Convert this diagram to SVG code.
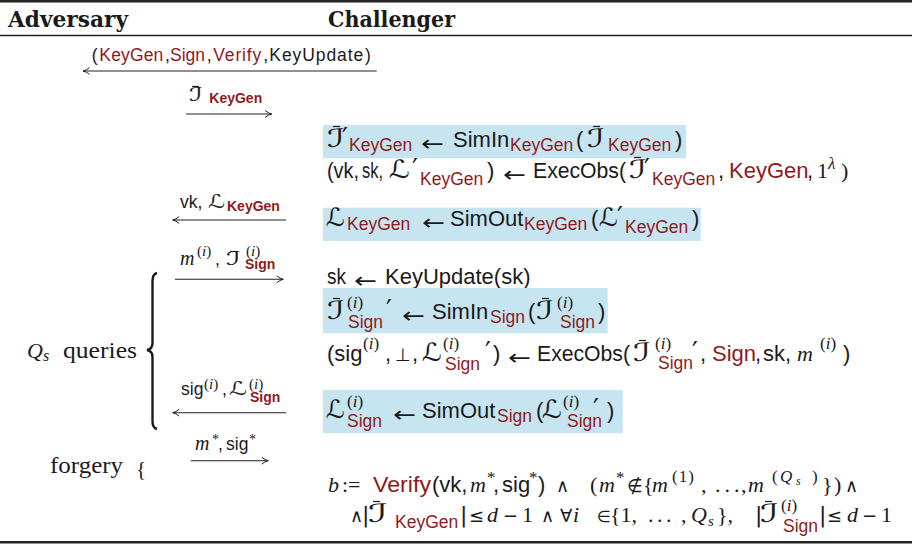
<svg xmlns="http://www.w3.org/2000/svg" width="912" height="545" viewBox="0 0 912 545">
  <style>
    text { fill: #1a1a1a; }
    .sf { font-family: "Liberation Sans", Arial, sans-serif; }
    .m22 { font-size: 22px; }
    .sb { font-size: 17.5px; }
    .rd { fill: #8e1b1b; }
    .it { font-family: "Liberation Serif", "Times New Roman", serif; font-style: italic; }
    .rm { font-family: "Liberation Serif", "Times New Roman", serif; font-style: normal; }
    .sc { font-family: "DejaVu Sans", sans-serif; font-style: italic; font-size: 25px; }
    .scs { font-family: "DejaVu Sans", sans-serif; font-style: italic; font-size: 19px; }
    .sy { font-family: "DejaVu Sans", sans-serif; font-style: normal; }
    .op { font-family: "DejaVu Sans", sans-serif; font-style: normal; font-size: 18px; }
    .ar { font-family: "DejaVu Sans", sans-serif; font-style: normal; font-size: 22px; }
    .pr { font-family: "DejaVu Sans", sans-serif; font-style: normal; font-size: 26px; }
    .bd { font-family: "Liberation Sans", Arial, sans-serif; font-weight: bold; font-size: 14px; }
    .sp { font-size: 17px; }
    .ls { font-size: 15px; }
    .hd { font-family: "DejaVu Serif", "Liberation Serif", serif; font-weight: bold; font-size: 22px; }
    .lbl { font-size: 17.5px; }
    .ml { font-size: 24px; }
    .bar { stroke: #1a1a1a; stroke-width: 1.2; }
    .hl { fill: #c7e4f1; }
    .msg { stroke: #222; stroke-width: 1.1; fill: none; marker-end: url(#head); }
    .rule { stroke: #222; }
  </style>
  <defs>
    <marker id="head" viewBox="0 0 8 8" refX="7.5" refY="4" markerWidth="8" markerHeight="8" markerUnits="userSpaceOnUse" orient="auto">
      <path d="M1,0.6 Q4.2,3.3 7.5,4 Q4.2,4.7 1,7.4" fill="none" stroke="#222" stroke-width="1"/>
    </marker>
  </defs>

  <!-- table rules and column headings -->
  <g id="header">
    <line class="rule" x1="0" y1="1.3" x2="912" y2="1.3" stroke-width="2.6"/>
    <text class="hd" x="8" y="26.7" textLength="120" lengthAdjust="spacingAndGlyphs">Adversary</text>
    <text class="hd" x="328" y="26.7" textLength="127" lengthAdjust="spacingAndGlyphs">Challenger</text>
    <line class="rule" x1="0" y1="35.5" x2="912" y2="35.5" stroke-width="1.3"/>
    <line class="rule" x1="0" y1="542.3" x2="912" y2="542.3" stroke-width="2.4"/>
  </g>

  <!-- adversary side annotations -->
  <g id="adversary">
    <path d="M157,273 Q152.5,274 152.5,281 L152.5,343 Q152.5,349 147,350 Q152.5,351 152.5,357 L152.5,421 Q152.5,428 157,429" fill="none" stroke="#1a1a1a" stroke-width="2.4"/>
    <text class="it" x="27" y="357.7" style="font-size:22px">Q<tspan class="it" y="361" style="font-size:16px">s</tspan></text>
    <text class="rm ml" x="63" y="357.7" textLength="74" lengthAdjust="spacingAndGlyphs">queries</text>
    <text class="rm ml" x="50" y="473.3" textLength="73" lengthAdjust="spacingAndGlyphs">forgery</text>
    <text class="rm" x="136" y="476" style="font-size:21px">{</text>
  </g>

  <!-- message arrows between the two parties -->
  <g id="connectors">
    <line class="msg" x1="376.7" y1="71" x2="83" y2="71"/>
    <line class="msg" x1="186" y1="114" x2="271.7" y2="114"/>
    <line class="msg" x1="286" y1="220" x2="172.7" y2="220"/>
    <line class="msg" x1="175" y1="279.3" x2="283.3" y2="279.3"/>
    <line class="msg" x1="286" y1="412.7" x2="172.7" y2="412.7"/>
    <line class="msg" x1="190.7" y1="460.7" x2="268.3" y2="460.7"/>
  </g>

  <!-- message labels -->
  <g id="messages">
    <text class="sf lbl" y="60.7">
      <tspan x="91.7">(</tspan><tspan class="rd" x="99.3" textLength="64">KeyGen</tspan><tspan x="165">,</tspan><tspan class="rd" x="170" textLength="35">Sign</tspan><tspan x="206.7">,</tspan><tspan class="rd" x="213.3" textLength="48">Verify</tspan><tspan x="263.3">,</tspan><tspan x="269.3" textLength="94">KeyUpdate</tspan><tspan x="365">)</tspan>
    </text>
    <text class="scs" x="189" y="100.5" textLength="14" lengthAdjust="spacingAndGlyphs">ℐ</text>
    <line class="bar" x1="192" y1="86.5" x2="199" y2="86.5"/>
    <text class="bd rd" x="209.3" y="103">KeyGen</text>

    <text class="sf lbl" x="180" y="207.7">vk,</text>
    <text class="scs" x="208" y="207.7" textLength="17" lengthAdjust="spacingAndGlyphs">ℒ</text>
    <text class="bd rd" x="227" y="210.7">KeyGen</text>

    <text class="it" x="180" y="265" style="font-size:20px">m</text>
    <text class="ls" y="256"><tspan class="rm" x="197">(</tspan><tspan class="it">i</tspan><tspan class="rm">)</tspan></text>
    <text class="sf lbl" x="215" y="265">,</text>
    <text class="scs" x="226" y="265" textLength="15" lengthAdjust="spacingAndGlyphs">ℐ</text>
    <line class="bar" x1="230" y1="251.5" x2="237" y2="251.5"/>
    <text class="ls" y="256"><tspan class="rm" x="246">(</tspan><tspan class="it">i</tspan><tspan class="rm">)</tspan></text>
    <text class="bd rd" x="245" y="269.3">Sign</text>

    <text class="sf lbl" x="181" y="395">sig</text>
    <text class="ls" y="389"><tspan class="rm" x="204">(</tspan><tspan class="it">i</tspan><tspan class="rm">)</tspan></text>
    <text class="sf lbl" x="222" y="395">,</text>
    <text class="scs" x="229" y="395" textLength="18" lengthAdjust="spacingAndGlyphs">ℒ</text>
    <text class="ls" y="389"><tspan class="rm" x="249">(</tspan><tspan class="it">i</tspan><tspan class="rm">)</tspan></text>
    <text class="bd rd" x="250" y="401.7">Sign</text>

    <text class="it" x="195" y="450" style="font-size:20px">m</text>
    <text class="rm" x="212" y="444" style="font-size:14px">*</text>
    <text class="sf lbl" x="218" y="450">,</text>
    <text class="sf lbl" x="226" y="450">sig</text>
    <text class="rm" x="249" y="444" style="font-size:14px">*</text>
  </g>

  <!-- key generation phase -->
  <g id="keygen">
    <rect class="hl" x="323" y="125" width="363" height="33.3"/>
    <text class="sf m22">
      <tspan class="sc" x="327" y="147" textLength="18" lengthAdjust="spacingAndGlyphs">ℐ</tspan><tspan class="pr" x="342" y="147">′</tspan><tspan class="rd sb" x="349" y="151">KeyGen</tspan>
      <tspan class="ar" x="421" y="150.5" textLength="23" lengthAdjust="spacingAndGlyphs">←</tspan><tspan x="453" y="147">SimIn</tspan><tspan class="rd sb" x="510" y="151">KeyGen</tspan>
      <tspan x="576" y="147">(</tspan><tspan class="sc" x="587" y="147" textLength="18" lengthAdjust="spacingAndGlyphs">ℐ</tspan><tspan class="rd sb" x="608" y="151">KeyGen</tspan><tspan x="675" y="147">)</tspan>
    </text>
    <line class="bar" x1="333" y1="126.5" x2="340" y2="126.5"/>
    <line class="bar" x1="593" y1="126.5" x2="600" y2="126.5"/>

    <text class="sf m22">
      <tspan x="327" y="178" textLength="32" lengthAdjust="spacingAndGlyphs">(vk,</tspan><tspan x="362" y="178" textLength="21" lengthAdjust="spacingAndGlyphs">sk,</tspan><tspan class="sc" x="389" y="178" textLength="21" lengthAdjust="spacingAndGlyphs">ℒ</tspan><tspan class="pr" x="412" y="178">′</tspan><tspan class="rd sb" x="420" y="185">KeyGen</tspan><tspan x="487" y="178">)</tspan>
      <tspan class="ar" x="503" y="181.5" textLength="23" lengthAdjust="spacingAndGlyphs">←</tspan><tspan x="533" y="178" textLength="93" lengthAdjust="spacingAndGlyphs">ExecObs(</tspan><tspan class="sc" x="629" y="178" textLength="18" lengthAdjust="spacingAndGlyphs">ℐ</tspan><tspan class="pr" x="644" y="178">′</tspan><tspan class="rd sb" x="652" y="185">KeyGen</tspan>
      <tspan x="718" y="178">,</tspan><tspan class="rd" x="729" y="178">KeyGen</tspan><tspan x="807" y="178">,</tspan>
      <tspan class="rm" x="817" y="178">1</tspan><tspan class="it sp" x="828" y="169">λ</tspan><tspan class="rm" x="841" y="178">)</tspan>
    </text>
    <line class="bar" x1="634" y1="157.5" x2="641" y2="157.5"/>

    <rect class="hl" x="323" y="207.7" width="377.7" height="33.3"/>
    <text class="sf m22">
      <tspan class="sc" x="326" y="226" textLength="19" lengthAdjust="spacingAndGlyphs">ℒ</tspan><tspan class="rd sb" x="347" y="230">KeyGen</tspan>
      <tspan class="ar" x="422" y="229.5" textLength="23" lengthAdjust="spacingAndGlyphs">←</tspan><tspan x="450" y="226">SimOut</tspan><tspan class="rd sb" x="524" y="230">KeyGen</tspan>
      <tspan x="591" y="226">(</tspan><tspan class="sc" x="599" y="226" textLength="19" lengthAdjust="spacingAndGlyphs">ℒ</tspan><tspan class="pr" x="617" y="226">′</tspan><tspan class="rd sb" x="625" y="233">KeyGen</tspan><tspan x="692" y="226">)</tspan>
    </text>
  </g>

  <!-- signing queries -->
  <g id="sign">
    <text class="sf m22">
      <tspan x="327" y="284.3" textLength="19" lengthAdjust="spacingAndGlyphs">sk</tspan><tspan class="ar" x="354" y="287.8" textLength="23" lengthAdjust="spacingAndGlyphs">←</tspan><tspan x="385" y="284.3">KeyUpdate(sk)</tspan>
    </text>

    <rect class="hl" x="323" y="288" width="284.7" height="45.3"/>
    <text class="sf m22">
      <tspan class="sc" x="327" y="319" textLength="18" lengthAdjust="spacingAndGlyphs">ℐ</tspan><tspan class="rd sb" x="348" y="327.7">Sign</tspan><tspan class="pr" x="386" y="319">′</tspan>
      <tspan class="ar" x="402" y="322.5" textLength="23" lengthAdjust="spacingAndGlyphs">←</tspan><tspan x="432" y="319">SimIn</tspan><tspan class="rd sb" x="490" y="323.3">Sign</tspan>
      <tspan x="528" y="319">(</tspan><tspan class="sc" x="536" y="319" textLength="18" lengthAdjust="spacingAndGlyphs">ℐ</tspan><tspan class="rd sb" x="560" y="327.7">Sign</tspan><tspan x="598" y="319">)</tspan>
    </text>
    <text class="sp" y="308"><tspan class="rm" x="347">(</tspan><tspan class="it">i</tspan><tspan class="rm">)</tspan><tspan class="rm" x="557">(</tspan><tspan class="it">i</tspan><tspan class="rm">)</tspan></text>
    <line class="bar" x1="333" y1="298.5" x2="340" y2="298.5"/>
    <line class="bar" x1="542" y1="298.5" x2="549" y2="298.5"/>

    <text class="sf m22">
      <tspan x="327" y="361">(sig</tspan><tspan x="385" y="361">,</tspan><tspan class="op" x="395" y="361">⊥</tspan><tspan x="412" y="361">,</tspan>
      <tspan class="sc" x="422" y="361" textLength="20" lengthAdjust="spacingAndGlyphs">ℒ</tspan><tspan class="rd sb" x="445" y="370">Sign</tspan><tspan class="pr" x="485" y="361">′</tspan><tspan x="493" y="361">)</tspan>
      <tspan class="ar" x="508" y="364.5" textLength="23" lengthAdjust="spacingAndGlyphs">←</tspan><tspan x="537" y="361" textLength="93" lengthAdjust="spacingAndGlyphs">ExecObs(</tspan><tspan class="sc" x="633" y="361" textLength="18" lengthAdjust="spacingAndGlyphs">ℐ</tspan><tspan class="rd sb" x="658" y="369.3">Sign</tspan><tspan class="pr" x="692" y="361">′</tspan>
      <tspan x="700" y="361">,</tspan><tspan class="rd" x="712" y="361">Sign</tspan><tspan x="755" y="361">,</tspan><tspan x="763" y="361">sk,</tspan>
      <tspan class="it" x="797" y="361">m</tspan><tspan x="843" y="361">)</tspan>
    </text>
    <text class="sp" y="349"><tspan class="rm" x="363">(</tspan><tspan class="it">i</tspan><tspan class="rm">)</tspan><tspan class="rm" x="443">(</tspan><tspan class="it">i</tspan><tspan class="rm">)</tspan><tspan class="rm" x="655">(</tspan><tspan class="it">i</tspan><tspan class="rm">)</tspan><tspan class="rm" x="820">(</tspan><tspan class="it">i</tspan><tspan class="rm">)</tspan></text>
    <line class="bar" x1="639" y1="340.5" x2="646" y2="340.5"/>

    <rect class="hl" x="323" y="390" width="299.7" height="43.3"/>
    <text class="sf m22">
      <tspan class="sc" x="326" y="418.3" textLength="19" lengthAdjust="spacingAndGlyphs">ℒ</tspan><tspan class="rd sb" x="347" y="426.7">Sign</tspan>
      <tspan class="ar" x="393" y="421.8" textLength="23" lengthAdjust="spacingAndGlyphs">←</tspan><tspan x="422" y="418.3">SimOut</tspan><tspan class="rd sb" x="497" y="421.7">Sign</tspan>
      <tspan x="536" y="418.3">(</tspan><tspan class="sc" x="542" y="418.3" textLength="20" lengthAdjust="spacingAndGlyphs">ℒ</tspan><tspan class="rd sb" x="567" y="426.7">Sign</tspan><tspan class="pr" x="593" y="418.3">′</tspan><tspan x="607" y="418.3">)</tspan>
    </text>
    <text class="sp" y="406.5"><tspan class="rm" x="347">(</tspan><tspan class="it">i</tspan><tspan class="rm">)</tspan><tspan class="rm" x="563">(</tspan><tspan class="it">i</tspan><tspan class="rm">)</tspan></text>
  </g>

  <!-- final verification -->
  <g id="verify">
    <text class="sf m22">
      <tspan class="it" x="328" y="491.5">b</tspan><tspan class="rm" x="342" y="491.5">:=</tspan>
      <tspan class="rd" x="373" y="491.5" textLength="58" lengthAdjust="spacingAndGlyphs">Verify</tspan><tspan x="432" y="491.5">(vk,</tspan>
      <tspan class="it" x="470" y="491.5">m</tspan><tspan class="rm sp" x="487" y="483">*</tspan><tspan x="493" y="491.5">,</tspan><tspan x="502" y="491.5">sig</tspan><tspan class="rm sp" x="529" y="483">*</tspan><tspan x="538" y="491.5">)</tspan>
      <tspan class="op" x="556" y="491.5">∧</tspan>
      <tspan class="rm" x="590" y="491.5">(</tspan><tspan class="it" x="599" y="491.5">m</tspan><tspan class="rm sp" x="616" y="483">*</tspan>
      <tspan class="op" x="627" y="491.5">∉</tspan><tspan class="rm" x="643" y="491.5">{</tspan>
      <tspan class="it" x="652" y="491.5">m</tspan><tspan class="rm sp" x="672" y="482" textLength="22">(1)</tspan>
      <tspan class="rm" x="701" y="491.5">,</tspan><tspan class="rm" x="715" y="491.5">.</tspan><tspan class="rm" x="724.5" y="491.5">.</tspan><tspan class="rm" x="734" y="491.5">.</tspan><tspan class="rm" x="741" y="491.5">,</tspan>
      <tspan class="it" x="748" y="491.5">m</tspan><tspan class="rm sp" x="772" y="482">(</tspan><tspan class="it sp" x="780" y="482">Q</tspan><tspan class="it" x="796" y="485" style="font-size:12px">s</tspan><tspan class="rm sp" x="812" y="482">)</tspan>
      <tspan class="rm" x="822" y="491.5">}</tspan><tspan class="rm" x="834" y="491.5">)</tspan><tspan class="op" x="845" y="491.5">∧</tspan>
    </text>
    <text class="sf m22">
      <tspan class="op" x="350" y="522">∧</tspan><tspan class="sy" x="362" y="522">|</tspan>
      <tspan class="sc" x="368" y="522" textLength="20" lengthAdjust="spacingAndGlyphs">ℐ</tspan><tspan class="rd sb" x="395" y="527.5">KeyGen</tspan><tspan class="sy" x="460" y="522">|</tspan>
      <tspan class="op" x="469" y="522">≤</tspan><tspan class="it" x="487" y="522">d</tspan><tspan class="op" x="503" y="522">−</tspan><tspan class="rm" x="522" y="522">1</tspan>
      <tspan class="op" x="541" y="522">∧</tspan><tspan class="op" x="560" y="522">∀</tspan><tspan class="it" x="573" y="522">i</tspan>
      <tspan class="op" x="597" y="522" style="font-size:16px">∈</tspan><tspan class="rm" x="610" y="522">{1,</tspan>
      <tspan class="rm" x="648" y="522">.</tspan><tspan class="rm" x="657" y="522">.</tspan><tspan class="rm" x="666" y="522">.</tspan><tspan class="rm" x="681" y="522">,</tspan>
      <tspan class="it" x="691" y="522">Q</tspan><tspan class="it" x="708" y="526" style="font-size:15px">s</tspan><tspan class="rm" x="717" y="522">},</tspan>
      <tspan class="sy" x="755" y="522">|</tspan><tspan class="sc" x="760" y="522" textLength="19" lengthAdjust="spacingAndGlyphs">ℐ</tspan><tspan class="rd sb" x="783" y="532">Sign</tspan><tspan class="sy" x="819" y="522">|</tspan>
      <tspan class="op" x="827" y="522">≤</tspan><tspan class="it" x="847" y="522">d</tspan><tspan class="op" x="862" y="522">−</tspan><tspan class="rm" x="881" y="522">1</tspan>
    </text>
    <text class="sp" y="511"><tspan class="rm" x="781">(</tspan><tspan class="it">i</tspan><tspan class="rm">)</tspan></text>
    <line class="bar" x1="373" y1="501.5" x2="380" y2="501.5"/>
    <line class="bar" x1="765" y1="501.5" x2="772" y2="501.5"/>
  </g>
</svg>
